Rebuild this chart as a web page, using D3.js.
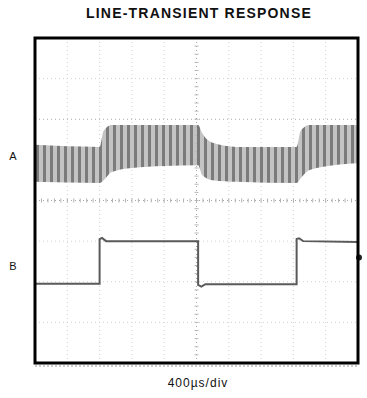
<!DOCTYPE html>
<html>
<head>
<meta charset="utf-8">
<script src="https://cdn.jsdelivr.net/npm/d3@7"></script>
<style>
  body { margin: 0; background: #fff; }
  text { font-family: "Liberation Sans", Arial, sans-serif; fill: #111; }
</style>
</head>
<body>
<div id="chart"></div>
<script>
// screen layout, in pixels
var WIDTH = 367, HEIGHT = 398;
var SCREEN = { left: 35, top: 38, right: 358, bottom: 363 };

// 10 horizontal divisions of 400us, 8 vertical divisions
var X_DIVS = d3.range(0, 4001, 400);
var Y_DIVS = d3.range(-4, 5, 1);

// trace A: ripple envelope (time in us, level in divisions)
var aTime  = [0, 800, 850, 950, 1200, 1600, 2020, 2070, 2200, 2500, 3240, 3290, 3400, 3700, 4000];
var aUpper = [1.37, 1.32, 1.72, 1.86, 1.86, 1.86, 1.86, 1.66, 1.42, 1.32, 1.32, 1.72, 1.86, 1.86, 1.86];
var aLower = [0.46, 0.43, 0.50, 0.70, 0.80, 0.85, 0.87, 0.63, 0.50, 0.46, 0.43, 0.55, 0.75, 0.87, 0.92];

// trace B: line step (time in us, level in divisions)
var bTime  = [0, 800, 800, 830, 880, 2020, 2020, 2060, 2110, 3240, 3240, 3270, 3320, 4000];
var bLevel = [-2.05, -2.05, -0.95, -0.92, -1.0, -1.0, -2.08, -2.12, -2.06, -2.06, -0.95, -0.93, -1.0, -1.02];

// channel labels
var channels = [{ name: 'A', level: 1.1 }, { name: 'B', level: -1.6 }];

var x = d3.scaleLinear().domain([0, 4000]).range([SCREEN.left, SCREEN.right]);
var y = d3.scaleLinear().domain([4, -4]).range([SCREEN.top, SCREEN.bottom]);

var svg = d3.select('#chart')
            .append('svg')
            .attr('width', WIDTH)
            .attr('height', HEIGHT);

// vertical stripes used for the ripple band
var pattern = svg.append('defs')
                 .append('pattern')
                 .attr('id', 'ripple')
                 .attr('patternUnits', 'userSpaceOnUse')
                 .attr('width', 7)
                 .attr('height', 10);
pattern.append('rect')
       .attr('width', 7)
       .attr('height', 10)
       .attr('fill', '#bcbcbc');
pattern.append('rect')
       .attr('x', 1)
       .attr('width', 3)
       .attr('height', 10)
       .attr('fill', '#6c6c6c');

// title
svg.append('text')
   .attr('x', 199)
   .attr('y', 18)
   .attr('text-anchor', 'middle')
   .style('font-size', '14px')
   .style('font-weight', 'bold')
   .style('letter-spacing', '1.2px')
   .text('LINE-TRANSIENT RESPONSE');

// dotted graticule
svg.append('g')
   .selectAll('line')
   .data(X_DIVS.slice(1, -1))
   .enter()
   .append('line')
   .attr('x1', function(d) { return x(d); })
   .attr('x2', function(d) { return x(d); })
   .attr('y1', SCREEN.top)
   .attr('y2', SCREEN.bottom)
   .attr('stroke', function(d) { return d === 2000 ? '#a8a8a8' : '#cfcfcf'; })
   .attr('stroke-dasharray', '1,3');

svg.append('g')
   .selectAll('line')
   .data(Y_DIVS.slice(1, -1))
   .enter()
   .append('line')
   .attr('x1', SCREEN.left)
   .attr('x2', SCREEN.right)
   .attr('y1', function(d) { return y(d); })
   .attr('y2', function(d) { return y(d); })
   .attr('stroke', function(d) { return (d === 0 || d === 2) ? '#a8a8a8' : '#d2d2d2'; })
   .attr('stroke-dasharray', '1,3');

// minor ticks on the center axes
svg.append('g')
   .selectAll('line')
   .data(d3.range(0, 4001, 80))
   .enter()
   .append('line')
   .attr('x1', function(d) { return x(d); })
   .attr('x2', function(d) { return x(d); })
   .attr('y1', y(0) - 2)
   .attr('y2', y(0) + 2)
   .attr('stroke', '#b0b0b0');

svg.append('g')
   .selectAll('line')
   .data(d3.range(-4, 4.01, 0.2))
   .enter()
   .append('line')
   .attr('x1', x(2000) - 2)
   .attr('x2', x(2000) + 2)
   .attr('y1', function(d) { return y(d); })
   .attr('y2', function(d) { return y(d); })
   .attr('stroke', '#b8b8b8');

// trace A ripple band
var band = d3.area()
             .x(function(d) { return x(d); })
             .y0(function(d, i) { return y(aLower[i]); })
             .y1(function(d, i) { return y(aUpper[i]); })
             .curve(d3.curveMonotoneX);

svg.append('path')
   .attr('d', band(aTime))
   .attr('fill', 'url(#ripple)')
   .attr('opacity', 0.9);

// trace B step
var stepLine = d3.line()
                 .x(function(d) { return x(d); })
                 .y(function(d, i) { return y(bLevel[i]); });

svg.append('path')
   .attr('d', stepLine(bTime))
   .attr('fill', 'none')
   .attr('stroke', '#5a5a5a')
   .attr('stroke-width', 2);

// ground marker at the right edge
svg.append('circle')
   .attr('cx', SCREEN.right + 1)
   .attr('cy', y(-1.4))
   .attr('r', 3)
   .attr('fill', '#222');

// screen frame and its shadow
svg.append('line')
   .attr('x1', SCREEN.left)
   .attr('x2', SCREEN.right)
   .attr('y1', SCREEN.bottom + 3)
   .attr('y2', SCREEN.bottom + 3)
   .attr('stroke', '#999')
   .attr('stroke-dasharray', '2,2');

svg.append('rect')
   .attr('x', SCREEN.left)
   .attr('y', SCREEN.top)
   .attr('width', SCREEN.right - SCREEN.left)
   .attr('height', SCREEN.bottom - SCREEN.top)
   .attr('fill', 'none')
   .attr('stroke', '#000')
   .attr('stroke-width', 3);

// channel labels
svg.selectAll('text.channel')
   .data(channels)
   .enter()
   .append('text')
   .attr('class', 'channel')
   .attr('x', 13)
   .attr('y', function(d) { return y(d.level) + 4; })
   .attr('text-anchor', 'middle')
   .style('font-size', '11px')
   .text(function(d) { return d.name; });

// time base
svg.append('text')
   .attr('x', 198)
   .attr('y', 387)
   .attr('text-anchor', 'middle')
   .style('font-size', '12px')
   .style('letter-spacing', '1px')
   .text('400\u00b5s/div');
</script>
</body>
</html>
